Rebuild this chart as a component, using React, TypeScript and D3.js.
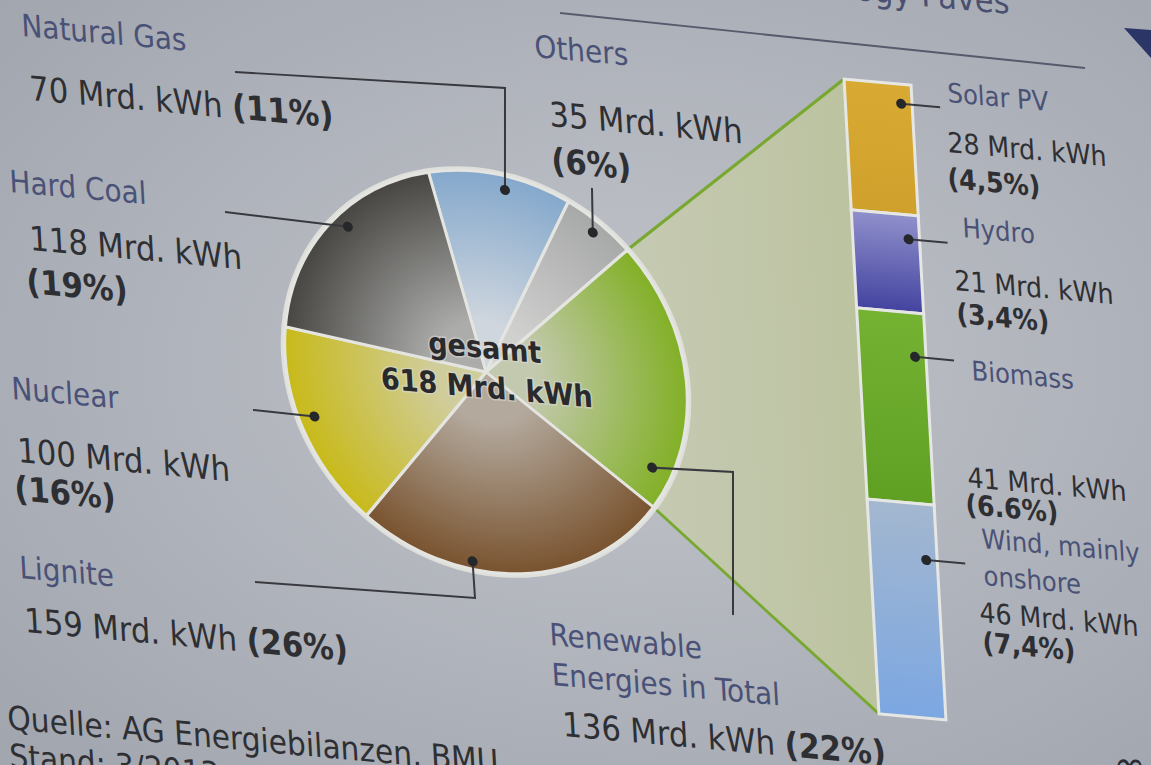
import React, { useRef, useEffect } from 'react';
import * as d3 from 'd3';

// electricity generation 2012 (Mrd. kWh), clockwise from the top
const sources = ['Natural Gas', 'Others', 'Renewable\nEnergies in Total', 'Lignite', 'Nuclear', 'Hard Coal'];
const sourceValues = [70, 35, 136, 159, 100, 118];
const sourceShares = ['11%', '6%', '22%', '26%', '16%', '19%'];

// breakdown of the renewable slice, top to bottom
const renewables = ['Solar PV', 'Hydro', 'Biomass', 'Wind, mainly\nonshore'];
const renewableValues = [28, 21, 41, 46];
const renewableShares = ['4,5%', '3,4%', '6.6%', '7,4%'];

const totalLines = ['gesamt', '618 Mrd. kWh'];
const noteLines = ['Quelle: AG Energiebilanzen, BMU', 'Stand: 3/2013'];
const titleText = 'Technology Paves';
const unit = 'Mrd. kWh';
const renewableIndex = 2;

const W = 1151;
const H = 765;

// the slide is photographed at an angle: a small shear
const B = 0.09;
const C = 0.055;
const det = 1 - B * C;
const at = (x: number, y: number): [number, number] => [(x - C * y) / det, (y - B * x) / det];

const FONT = "'DejaVu Sans Condensed', 'DejaVu Sans', sans-serif";
const NAME_COLOR = '#4a5177';
const VALUE_COLOR = '#2e2f33';

const sliceInner = ['#cfd6de', '#d0d0cf', '#c3c9ae', '#b3a99d', '#d0cd9c', '#acacaa'];
const sliceOuter = ['#84a8cc', '#a7a8a8', '#82b026', '#79532f', '#c8ba1a', '#474643'];
const barTop = ['#d9aa33', '#9090cc', '#74b232', '#a3b7cf'];
const barBottom = ['#cfa12c', '#4343a0', '#5fa023', '#7ca7e2'];

// label anchors in picture coordinates
const sourceLabelPos = [
  { name: [22, 36], value: [30, 100], share: null, dotAt: 0.55, dotR: 0.93, leader: [[505, 88], [235, 72]] },
  { name: [535, 57], value: [550, 126], share: [552, 172], dotAt: 0.5, dotR: 0.94, leader: [[592, 188]] },
  { name: [550, 645], value: [563, 736], share: null, dotAt: 0.87, dotR: 0.9, leader: [[733, 472], [733, 615]] },
  { name: [20, 578], value: [25, 632], share: null, dotAt: 0.65, dotR: 0.96, leader: [[475, 598], [255, 582]] },
  { name: [12, 399], value: [18, 462], share: [15, 500], dotAt: 0.54, dotR: 0.92, leader: [[253, 410]] },
  { name: [10, 192], value: [30, 250], share: [27, 293], dotAt: 0.55, dotR: 0.93, leader: [[225, 212]] },
];
const renewableLabelPos = [
  { name: [948, 102], value: [948, 152], share: [948, 188], dotAt: 0.15 },
  { name: [963, 237], value: [955, 290], share: [957, 323], dotAt: 0.25 },
  { name: [972, 380], value: [968, 487], share: [966, 514], dotAt: 0.23 },
  { name: [982, 548], value: [980, 622], share: [983, 652], dotAt: 0.26 },
];

const App: React.FC = () => {
  const svgRef = useRef<SVGSVGElement | null>(null);

  useEffect(() => {
    if (!svgRef.current) return;
    const svg = d3.select(svgRef.current);
    svg.selectAll('*').remove();
    const defs = svg.append('defs');

    // slide background with a little vignette
    const bg = defs.append('radialGradient').attr('id', 'bg')
      .attr('cx', '55%').attr('cy', '48%').attr('r', '72%');
    bg.append('stop').attr('offset', '0%').attr('stop-color', '#c1c4ca');
    bg.append('stop').attr('offset', '100%').attr('stop-color', '#a2a6af');
    svg.append('rect').attr('width', W).attr('height', H).attr('fill', 'url(#bg)');

    const g = svg.append('g').attr('transform', `matrix(1,${B},${C},1,0,0)`);

    // header rule and cut-off title
    const h1 = at(560, 13);
    const h2 = at(1085, 68);
    g.append('line').attr('x1', h1[0]).attr('y1', h1[1]).attr('x2', h2[0]).attr('y2', h2[1])
      .attr('stroke', '#555a6c').attr('stroke-width', 2);
    const tp = at(1010, 14);
    g.append('text').attr('x', tp[0]).attr('y', tp[1]).attr('text-anchor', 'end')
      .attr('font-family', FONT).attr('font-size', 34).attr('fill', '#4a5070').text(titleText);

    // pie
    const R = 201;
    const [cx, cy] = at(486, 372);
    const start = -0.235;
    const pie = d3.pie<number>().sort(null).startAngle(start).endAngle(start + 2 * Math.PI)(sourceValues);
    const arc = d3.arc<d3.PieArcDatum<number>>().innerRadius(0).outerRadius(R);

    // stacked bar of the renewables
    const barTL = at(843, 79);
    const barBL = at(880, 714);
    const barX = (barTL[0] + barBL[0]) / 2;
    const barW = 67;
    const y = d3.scaleLinear().domain([0, d3.sum(renewableValues)]).range([barTL[1], barBL[1]]);
    const cum = d3.cumsum(renewableValues);

    // connector between the renewable slice and the bar
    const rs = pie[renewableIndex];
    const edge = (a: number): [number, number] => [cx + R * Math.sin(a), cy - R * Math.cos(a)];
    const p1 = edge(rs.startAngle);
    const p2 = edge(rs.endAngle);
    const cg = defs.append('linearGradient').attr('id', 'conn').attr('x1', '0').attr('x2', '1').attr('y1', '0').attr('y2', '0');
    cg.append('stop').attr('offset', '0%').attr('stop-color', '#cbcebf');
    cg.append('stop').attr('offset', '100%').attr('stop-color', '#bcc3a0');
    g.append('path')
      .attr('d', d3.line()([[cx, cy], p1, [barX, y(0)], [barX, y(d3.sum(renewableValues))], p2]) + 'Z')
      .attr('fill', 'url(#conn)');
    const greenLines = [[p1, [barX, y(0)]], [p2, [barX, y(d3.sum(renewableValues))]]];
    greenLines.forEach(l => {
      g.append('line').attr('x1', l[0][0]).attr('y1', l[0][1]).attr('x2', l[1][0]).attr('y2', l[1][1])
        .attr('stroke', '#78a830').attr('stroke-width', 3);
    });

    const pg = g.append('g').attr('transform', `translate(${cx},${cy})`);
    pg.append('circle').attr('r', R + 4).attr('fill', '#dfe0dc');
    pie.forEach((d, i) => {
      const grad = defs.append('radialGradient').attr('id', `slice${i}`)
        .attr('gradientUnits', 'userSpaceOnUse').attr('cx', 0).attr('cy', 0).attr('r', R);
      grad.append('stop').attr('offset', '0%').attr('stop-color', sliceInner[i]);
      grad.append('stop').attr('offset', '25%').attr('stop-color', sliceInner[i]);
      grad.append('stop').attr('offset', '100%').attr('stop-color', sliceOuter[i]);
      pg.append('path').attr('d', arc(d) as string).attr('fill', `url(#slice${i})`)
        .attr('stroke', '#e4e5e0').attr('stroke-width', 3).attr('stroke-linejoin', 'round');
    });

    // bar segments
    renewableValues.forEach((v, i) => {
      const grad = defs.append('linearGradient').attr('id', `bar${i}`)
        .attr('x1', '0').attr('x2', '0').attr('y1', '0').attr('y2', '1');
      grad.append('stop').attr('offset', '0%').attr('stop-color', barTop[i]);
      grad.append('stop').attr('offset', '100%').attr('stop-color', barBottom[i]);
      g.append('rect').attr('x', barX).attr('y', y(cum[i] - v)).attr('width', barW)
        .attr('height', y(cum[i]) - y(cum[i] - v)).attr('fill', `url(#bar${i})`)
        .attr('stroke', '#e6e7e4').attr('stroke-width', 3);
    });

    // leader lines
    const drawLeader = (pts: [number, number][]) => {
      g.append('path').attr('d', d3.line()(pts) as string).attr('fill', 'none')
        .attr('stroke', '#38393f').attr('stroke-width', 2);
      g.append('circle').attr('cx', pts[0][0]).attr('cy', pts[0][1]).attr('r', 5).attr('fill', '#26272b');
    };
    pie.forEach((d, i) => {
      const lp = sourceLabelPos[i];
      const a = d.startAngle + (d.endAngle - d.startAngle) * lp.dotAt;
      const dot: [number, number] = [cx + R * lp.dotR * Math.sin(a), cy - R * lp.dotR * Math.cos(a)];
      drawLeader([dot, ...lp.leader.map(p => at(p[0], p[1]))]);
    });
    renewableValues.forEach((v, i) => {
      const lp = renewableLabelPos[i];
      const dy = y(cum[i] - v) + (y(cum[i]) - y(cum[i] - v)) * lp.dotAt;
      drawLeader([[barX + barW - 11, dy], [barX + barW + 28, dy]]);
    });

    // labels
    const label = (lp: any, name: string, value: number, share: string, nameSize: number, valueSize: number, gap: number) => {
      const np = at(lp.name[0], lp.name[1]);
      const nt = g.append('text').attr('font-family', FONT).attr('font-size', nameSize).attr('fill', NAME_COLOR);
      name.split('\n').forEach((line, k) => {
        nt.append('tspan').attr('x', np[0]).attr('y', np[1] + k * gap).text(line);
      });
      const vp = at(lp.value[0], lp.value[1]);
      const vt = g.append('text').attr('x', vp[0]).attr('y', vp[1])
        .attr('font-family', FONT).attr('font-size', valueSize).attr('fill', VALUE_COLOR);
      vt.append('tspan').text(`${value} ${unit}${lp.share ? '' : ' '}`);
      if (lp.share) {
        const sp = at(lp.share[0], lp.share[1]);
        g.append('text').attr('x', sp[0]).attr('y', sp[1]).attr('font-family', FONT)
          .attr('font-size', valueSize).attr('font-weight', 'bold').attr('fill', VALUE_COLOR).text(`(${share})`);
      } else {
        vt.append('tspan').attr('font-weight', 'bold').text(`(${share})`);
      }
    };
    sources.forEach((s, i) => label(sourceLabelPos[i], s, sourceValues[i], sourceShares[i], 31, 34, 40));
    renewables.forEach((s, i) => label(renewableLabelPos[i], s, renewableValues[i], renewableShares[i], 27, 28, 37));

    // total in the middle of the pie
    const tt = g.append('text').attr('text-anchor', 'middle').attr('font-family', FONT)
      .attr('font-size', 30).attr('font-weight', 'bold').attr('fill', '#2a2a2c')
      .attr('stroke', '#d8d9d4').attr('stroke-width', 3).attr('stroke-opacity', 0.6)
      .attr('paint-order', 'stroke');
    tt.append('tspan').attr('x', cx).attr('y', cy - 14).text(totalLines[0]);
    tt.append('tspan').attr('x', cx).attr('y', cy + 26).text(totalLines[1]);

    // source note
    const qp = at(8, 729);
    const qt = g.append('text').attr('font-family', FONT).attr('font-size', 33).attr('fill', VALUE_COLOR);
    noteLines.forEach((line, k) => qt.append('tspan').attr('x', qp[0]).attr('y', qp[1] + k * 38).text(line));

    // slide decorations at the corners
    svg.append('path').attr('d', 'M1124,28 L1151,30 L1151,58 Z').attr('fill', '#2b3566');
    svg.append('text').attr('x', 1113).attr('y', 781).attr('font-family', FONT)
      .attr('font-size', 44).attr('fill', '#2a2c35').text('∞');
  }, []);

  return <svg ref={svgRef} width={W} height={H} style={{ position: 'absolute', left: 0, top: 0 }} />;
};

export default App;
